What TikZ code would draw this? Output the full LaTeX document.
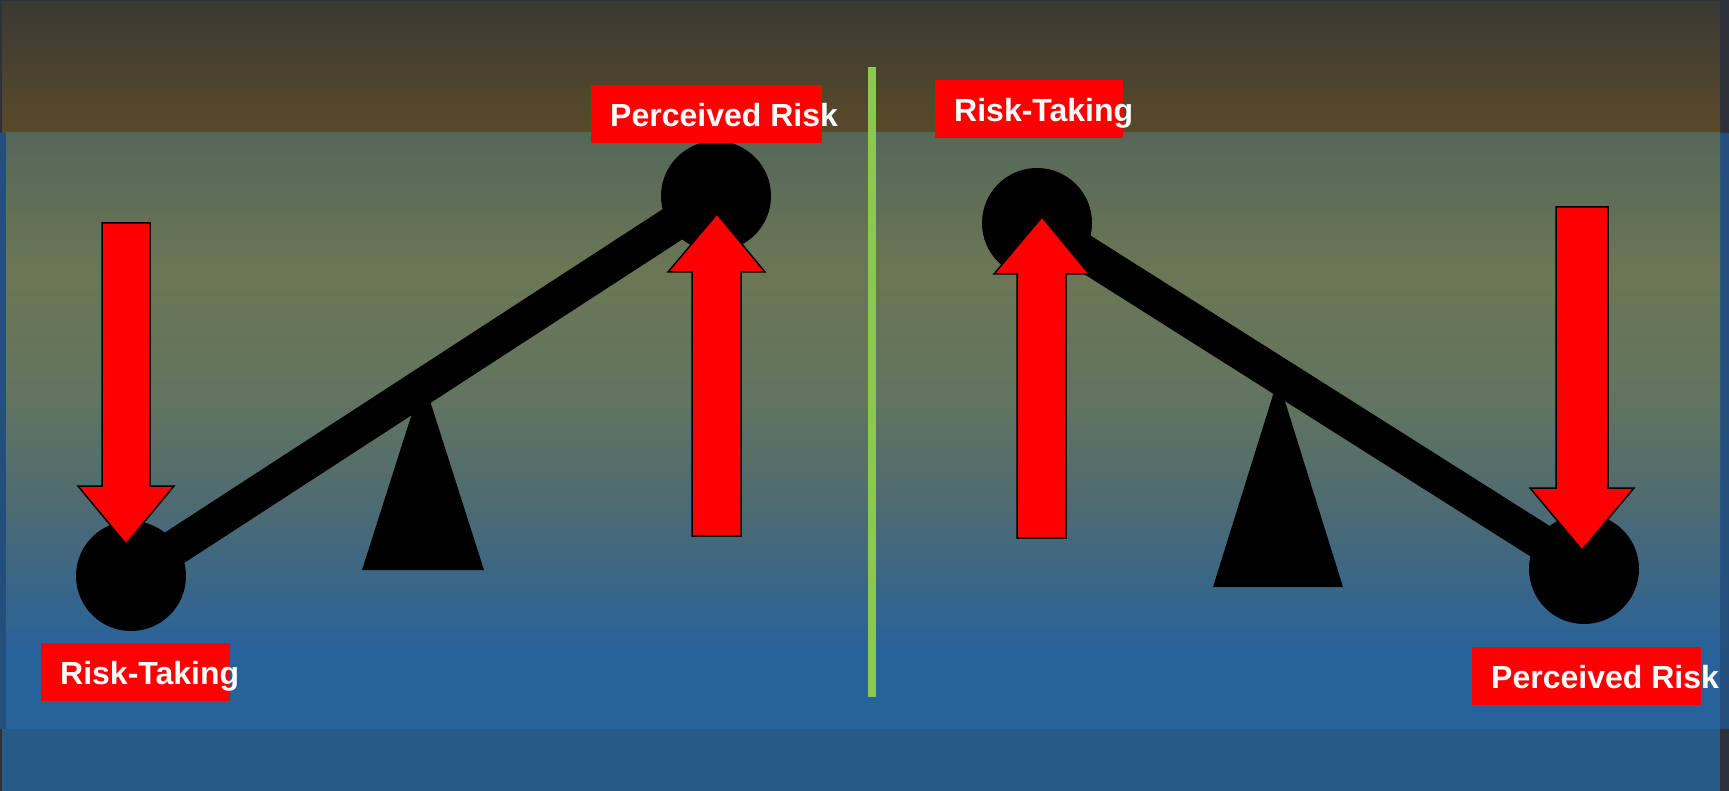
\documentclass[tikz,border=0pt]{standalone}
\usepackage{fontspec}
\setmainfont{Liberation Sans}
\usepackage{xcolor}
\usepackage{tikz}
\usetikzlibrary{positioning}

\definecolor{framegray}{HTML}{2D3139}
\definecolor{topdark}{HTML}{3A3A34}
\definecolor{topbrown}{HTML}{5A4A2A}
\definecolor{midA}{HTML}{55675A}
\definecolor{midB}{HTML}{6B7654}
\definecolor{midC}{HTML}{627460}
\definecolor{midD}{HTML}{4F6B70}
\definecolor{midE}{HTML}{28629A}
\definecolor{edgeblue}{HTML}{244F7D}
\definecolor{lowblue}{HTML}{285A88}
\definecolor{dividergreen}{HTML}{8BC94E}

\begin{document}
\begin{tikzpicture}[
  x=1pt, y=-1pt,
  weight/.style={circle,fill=black,minimum size=110pt,inner sep=0pt},
  beam/.style={line width=36pt,draw=black},
  fulcrum/.style={fill=black},
  push/.style={fill=red,draw=black,line width=1.5pt,line join=miter},
  divider/.style={line width=8pt,draw=dividergreen},
  tagbox/.style={rectangle,fill=red,inner sep=0pt,anchor=north west},
  tagtext/.style={text=white,font=\bfseries\fontsize{32}{38}\selectfont,inner sep=0pt,anchor=base west}
]
\useasboundingbox (0,0) rectangle (1729,791);
% background bands
\fill[framegray] (0,0) rectangle (1729,791);
\shade[top color=topdark,bottom color=topbrown] (2,2) rectangle (1720,133);
\fill[edgeblue] (0,133) rectangle (1729,729);
\shade[top color=midA,bottom color=midB] (6,133) rectangle (1720,271);
\shade[top color=midB,bottom color=midC] (6,270) rectangle (1720,401);
\shade[top color=midC,bottom color=midD] (6,400) rectangle (1720,501);
\shade[top color=midD,bottom color=midE] (6,500) rectangle (1720,651);
\fill[midE] (6,650) rectangle (1720,729);
\fill[lowblue] (2,729) rectangle (1720,791);

\coordinate (dtop) at (872,67);
\coordinate (dbot) at (872,697);
\draw[divider] (dtop) -- (dbot);

% left seesaw
\node[weight] (lrt) at (131,576) {};
\node[weight] (lpr) at (716,196) {};
\draw[beam] (lrt.center) -- (lpr.center);
\fill[fulcrum] (362,570) -- (423,379) -- (484,570) -- cycle;

% right seesaw
\node[weight] (rrt) at (1037,223) {};
\node[weight] (rpr) at (1584,569) {};
\draw[beam] (rrt.center) -- (rpr.center);
\fill[fulcrum] (1213,587) -- (1278,379) -- (1343,587) -- cycle;

% arrows
\draw[push] (102,223) -- (150,223) -- (150,486) -- (174,486) -- (126,544)
  -- (78,486) -- (102,486) -- cycle;
\draw[push] (692,536) -- (741,536) -- (741,272) -- (765,272) -- (717,214)
  -- (668,272) -- (692,272) -- cycle;
\draw[push] (1017,538) -- (1066,538) -- (1066,274) -- (1089,274) -- (1042,217)
  -- (994,274) -- (1017,274) -- cycle;
\draw[push] (1556,207) -- (1608,207) -- (1608,488) -- (1634,488) -- (1582,550)
  -- (1530,488) -- (1556,488) -- cycle;

% labels
\node[tagbox,minimum width=231pt,minimum height=58pt] (lprbox) at (591,85) {};
\node[tagtext] (lprtext) at ([xshift=19pt,yshift=17pt]lprbox.south west) {Perceived Risk};
\node[tagbox,minimum width=189pt,minimum height=58pt] (lrtbox) at (41,643) {};
\node[tagtext] (lrttext) at ([xshift=19pt,yshift=17pt]lrtbox.south west) {Risk-Taking};
\node[tagbox,minimum width=188pt,minimum height=58pt] (rrtbox) at (935,80) {};
\node[tagtext] (rrttext) at ([xshift=19pt,yshift=17pt]rrtbox.south west) {Risk-Taking};
\node[tagbox,minimum width=229pt,minimum height=58pt] (rprbox) at (1472,647) {};
\node[tagtext] (rprtext) at ([xshift=19pt,yshift=17pt]rprbox.south west) {Perceived Risk};
\end{tikzpicture}
\end{document}
